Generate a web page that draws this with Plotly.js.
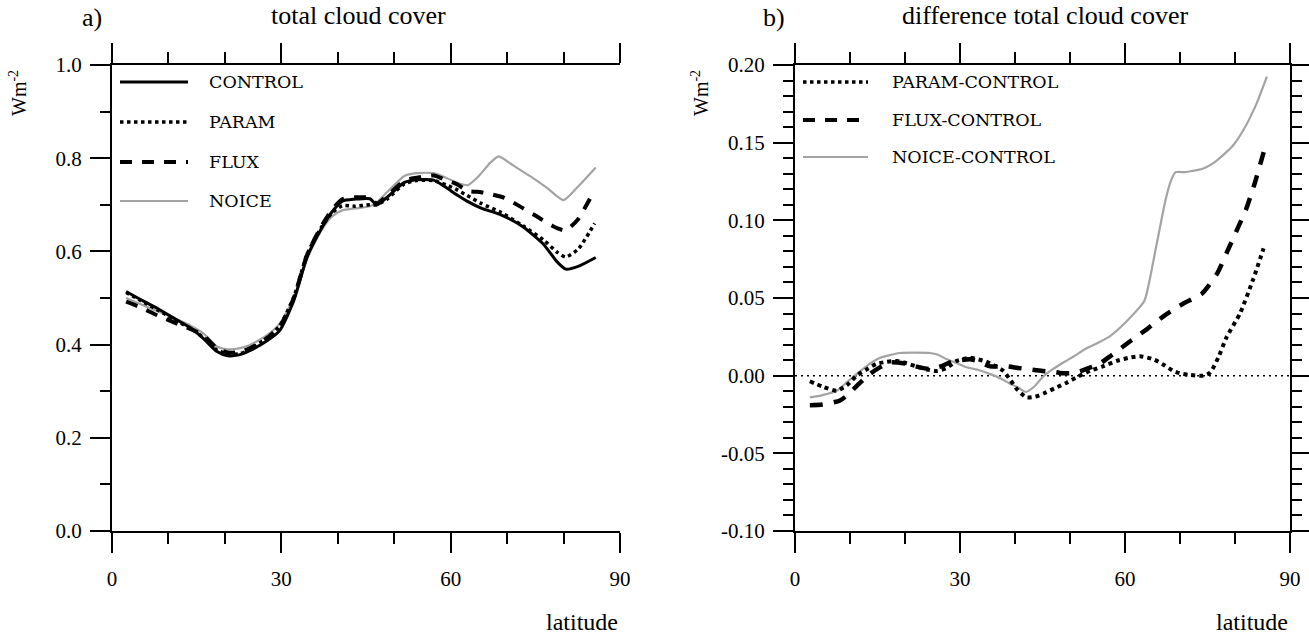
<!DOCTYPE html>
<html>
<head>
<meta charset="utf-8">
<script src="https://cdn.plot.ly/plotly-3.0.1.min.js"></script>
<style>html,body{margin:0;padding:0;background:#fff;}#chart{width:1309px;height:636px;}</style>
</head>
<body>
<div id="chart"></div>
<script>
// ---------- data ----------
const latControl = [2.5, 5, 8, 11.9, 14, 16.2, 18.6, 20.5, 22.5, 24.2, 27.2, 29.7, 32.2, 34.6, 37.1, 39, 40.8, 43, 45.7, 46.9, 48.8, 51.8, 54, 57, 59.2, 61, 62.9, 65.4, 69, 72.8, 76.4, 78.9, 80.4, 82.6, 85.7];
const control    = [0.514, 0.497, 0.478, 0.450, 0.435, 0.413, 0.385, 0.376, 0.378, 0.386, 0.406, 0.430, 0.494, 0.589, 0.649, 0.685, 0.708, 0.712, 0.713, 0.700, 0.717, 0.748, 0.754, 0.753, 0.737, 0.722, 0.708, 0.693, 0.678, 0.653, 0.616, 0.577, 0.562, 0.568, 0.587];

const latParam = [2.5, 5, 8, 11.9, 14, 16.2, 18.6, 20.5, 22.5, 24.2, 27.2, 29.7, 32.2, 34.6, 37.1, 39, 40.8, 43, 45.7, 46.9, 48.8, 51.8, 54, 57, 59.2, 61, 62.9, 65.4, 69, 72.8, 76.4, 78.9, 80.4, 82.6, 85.5];
const param    = [0.512, 0.495, 0.475, 0.448, 0.434, 0.415, 0.388, 0.380, 0.380, 0.388, 0.412, 0.440, 0.502, 0.595, 0.652, 0.683, 0.698, 0.697, 0.700, 0.700, 0.713, 0.745, 0.752, 0.752, 0.743, 0.733, 0.720, 0.703, 0.683, 0.655, 0.625, 0.598, 0.588, 0.605, 0.660];

const latFlux = [2.5, 5, 8, 11.9, 14, 16.2, 18.6, 20.5, 22.5, 24.2, 27.2, 29.7, 32.2, 34.6, 37.1, 39, 40.8, 43, 45.7, 46.9, 48.8, 51.8, 54, 57, 59.2, 61, 63, 65.4, 67, 69.5, 71.5, 75, 78, 80.3, 82.5, 84.8];
const flux    = [0.492, 0.480, 0.463, 0.443, 0.433, 0.420, 0.392, 0.383, 0.384, 0.391, 0.412, 0.438, 0.500, 0.594, 0.654, 0.690, 0.712, 0.716, 0.715, 0.703, 0.720, 0.752, 0.758, 0.763, 0.753, 0.745, 0.730, 0.727, 0.723, 0.715, 0.702, 0.677, 0.655, 0.645, 0.668, 0.716];

const latNoice = [2.5, 5, 8, 11.9, 14, 16.2, 18.6, 20.5, 22.5, 24.2, 27.2, 29.7, 32.2, 34.6, 37.1, 39, 40.8, 43, 45.7, 46.9, 48.8, 51.8, 54, 57, 59.2, 61, 63, 65, 67, 68.5, 71, 74, 77, 80, 82.5, 85.7];
const noice    = [0.500, 0.487, 0.472, 0.452, 0.440, 0.424, 0.396, 0.390, 0.392, 0.398, 0.418, 0.445, 0.500, 0.585, 0.645, 0.675, 0.688, 0.692, 0.697, 0.705, 0.728, 0.762, 0.768, 0.768, 0.758, 0.748, 0.742, 0.762, 0.790, 0.804, 0.785, 0.762, 0.737, 0.710, 0.738, 0.780];

const latParamDiff = [2.7, 5, 7.6, 9.5, 11.2, 13, 14.8, 16.5, 18.5, 20.3, 22, 24, 25.8, 27.6, 29.4, 31.8, 34.8, 36.5, 37.9, 39.2, 40.3, 42.1, 43.7, 45.2, 47.3, 49.4, 51.5, 53.6, 56, 58.5, 60.7, 62.7, 65.2, 67, 68.8, 70.3, 71.8, 74.2, 75.5, 77, 78.5, 80.9, 83.3, 85.2];
const paramDiff    = [-0.0036, -0.007, -0.0097, -0.006, 0, 0.004, 0.0076, 0.0088, 0.0095, 0.008, 0.006, 0.004, 0.003, 0.005, 0.0095, 0.0115, 0.009, 0.006, 0.003, -0.003, -0.0085, -0.014, -0.0135, -0.0115, -0.008, -0.0045, -0.0005, 0.003, 0.006, 0.0095, 0.0115, 0.0125, 0.0105, 0.007, 0.003, 0.0012, 0.0005, 0.0, 0.002, 0.012, 0.025, 0.040, 0.062, 0.082];

const latFluxDiff = [2.7, 5, 8.2, 10, 11.2, 13.6, 15.5, 17.3, 20.3, 22.5, 24.5, 26.5, 28.2, 30, 31.8, 33.5, 35.5, 38.5, 40.5, 42.7, 45, 47, 49, 51.2, 53.5, 55.5, 57.5, 60.5, 64, 67.3, 70.7, 74, 76.8, 78.6, 80.5, 82, 83.6, 85.3];
const fluxDiff    = [-0.019, -0.0185, -0.016, -0.011, -0.0067, 0.001, 0.0055, 0.0085, 0.0076, 0.0055, 0.0043, 0.006, 0.0085, 0.0098, 0.0105, 0.009, 0.006, 0.006, 0.005, 0.004, 0.003, 0.0025, 0.0015, 0.002, 0.005, 0.008, 0.013, 0.021, 0.030, 0.039, 0.0466, 0.0528, 0.066, 0.080, 0.095, 0.107, 0.124, 0.145];

const latNoiceDiff = [2.7, 5, 7.6, 9.5, 11.2, 13.3, 15.5, 17, 19, 22, 24.5, 26, 27.6, 29.5, 31.2, 33.5, 35.5, 37.5, 39, 40.5, 42, 43.5, 45, 46.8, 48.8, 50.5, 52.4, 55, 57.3, 60.3, 63.5, 64.5, 65.5, 66.5, 67.3, 68.2, 69.2, 71, 72.5, 74, 76.5, 79.6, 81.5, 83.9, 85.8];
const noiceDiff    = [-0.014, -0.0125, -0.0097, -0.004, 0.001, 0.007, 0.0115, 0.013, 0.0146, 0.0148, 0.0146, 0.0135, 0.0105, 0.008, 0.0054, 0.0035, 0.001, -0.002, -0.005, -0.0075, -0.0105, -0.007, -0.001, 0.004, 0.0085, 0.012, 0.0164, 0.021, 0.0255, 0.035, 0.048, 0.062, 0.080, 0.098, 0.112, 0.124, 0.131, 0.131, 0.132, 0.133, 0.138, 0.148, 0.158, 0.175, 0.1925];

const xTickVals = [0, 30, 60, 90];
const leftYTickVals = [0, 0.2, 0.4, 0.6, 0.8, 1.0];
const rightYTickVals = [-0.10, -0.05, 0.00, 0.05, 0.10, 0.15, 0.20];

const namesLeft = ['CONTROL', 'PARAM', 'FLUX', 'NOICE'];
const namesRight = ['PARAM-CONTROL', 'FLUX-CONTROL', 'NOICE-CONTROL'];

// ---------- styling ----------
const W = 1309, H = 636;
const serif = 'Liberation Serif, Times New Roman, serif';
const legFont = 'DejaVu Serif, serif';
const px = v => v / W;
const py = v => 1 - v / H;

const styles = {
  control: {color: 'black', width: 3, dash: 'solid'},
  param: {color: 'black', width: 3.5, dash: 'dot'},
  flux: {color: 'black', width: 4, dash: '12px,10px'},
  noice: {color: '#a3a3a3', width: 2.2, dash: 'solid'}
};

function tr(x, y, name, st, xa, ya) {
  return {x: x, y: y, name: name, type: 'scatter', mode: 'lines', xaxis: xa, yaxis: ya,
    line: {color: st.color, width: st.width, dash: st.dash, shape: 'spline', smoothing: 0.6},
    hoverinfo: 'skip', showlegend: false};
}

const data = [
  tr(latNoice, noice, namesLeft[3], styles.noice, 'x', 'y'),
  tr(latFlux, flux, namesLeft[2], styles.flux, 'x', 'y'),
  tr(latParam, param, namesLeft[1], styles.param, 'x', 'y'),
  tr(latControl, control, namesLeft[0], styles.control, 'x', 'y'),
  tr(latNoiceDiff, noiceDiff, namesRight[2], styles.noice, 'x2', 'y2'),
  tr(latFluxDiff, fluxDiff, namesRight[1], {color: 'black', width: 4.5, dash: '13px,11px'}, 'x2', 'y2'),
  tr(latParamDiff, paramDiff, namesRight[0], {color: 'black', width: 4, dash: 'dot'}, 'x2', 'y2')
];

const axBase = {showgrid: false, zeroline: false, showline: true, linecolor: 'black', linewidth: 2,
  ticks: 'outside', tickcolor: 'black', tickwidth: 2, fixedrange: true,
  tickfont: {family: serif, size: 21, color: 'black'}};

function minorVals(lo, hi, step, skip) {
  const out = [];
  for (let i = 0; lo + i * step <= hi + 1e-9; i++) {
    const v = +(lo + i * step).toFixed(6);
    if (!skip.some(s => Math.abs(s - v) < 1e-6)) out.push(v);
  }
  return out;
}

const xAxisCommon = Object.assign({}, axBase, {
  range: [0, 90], tickmode: 'array', tickvals: xTickVals, ticktext: xTickVals.map(String),
  ticklen: 20, ticklabelstandoff: 8, mirror: 'allticks',
  minor: {tickmode: 'array', tickvals: minorVals(0, 90, 10, xTickVals), ticklen: 11, tickwidth: 2, tickcolor: 'black', ticks: 'outside'}
});

// right-hand scale of panel a) (unlabelled, different spacing)
const rStep = 0.0843;
const rMajor = minorVals(0, 1, 2 * rStep, []).concat([1.0]);
const rMinor = minorVals(rStep, 1, 2 * rStep, []);

const TOP = 65, BOT = 531;
const layout = {
  width: W, height: H, margin: {l: 0, r: 0, t: 0, b: 0},
  paper_bgcolor: 'white', plot_bgcolor: 'rgba(0,0,0,0)', showlegend: false,
  xaxis: Object.assign({}, xAxisCommon, {domain: [px(112), px(620)], anchor: 'y'}),
  yaxis: Object.assign({}, axBase, {domain: [py(BOT), py(TOP)], anchor: 'x', range: [0, 1],
    tickmode: 'array', tickvals: leftYTickVals, ticktext: leftYTickVals.map(v => v.toFixed(1)),
    ticklen: 20, ticklabelstandoff: 4,
    minor: {tickmode: 'array', tickvals: minorVals(0, 1, 0.1, leftYTickVals), ticklen: 10, tickwidth: 2, tickcolor: 'black', ticks: 'outside'}}),
  yaxis3: Object.assign({}, axBase, {overlaying: 'y', side: 'right', anchor: 'x', range: [0, 1],
    showticklabels: false, tickmode: 'array', tickvals: rMajor, ticklen: 19,
    minor: {tickmode: 'array', tickvals: rMinor, ticklen: 10, tickwidth: 2, tickcolor: 'black', ticks: 'outside'}}),
  xaxis2: Object.assign({}, xAxisCommon, {domain: [px(795), px(1290)], anchor: 'y2'}),
  yaxis2: Object.assign({}, axBase, {domain: [py(BOT), py(TOP)], anchor: 'x2', range: [-0.1, 0.2],
    tickmode: 'array', tickvals: rightYTickVals, ticktext: rightYTickVals.map(v => v.toFixed(2)),
    ticklen: 20, ticklabelstandoff: 4, mirror: 'allticks',
    minor: {tickmode: 'array', tickvals: minorVals(-0.1, 0.2, 0.01, rightYTickVals), ticklen: 10, tickwidth: 2, tickcolor: 'black', ticks: 'outside'}}),
  shapes: [],
  annotations: []
};

// zero reference line in panel b)
layout.shapes.push({type: 'line', xref: 'x2 domain', x0: 0, x1: 1, yref: 'y2', y0: 0, y1: 0,
  line: {color: 'black', width: 1.5, dash: '2px,4px'}, layer: 'below'});

// hand-drawn legends (long line samples, as in the original)
function legendRow(x0, x1, xt, y, st, label) {
  layout.shapes.push({type: 'line', xref: 'paper', yref: 'paper', x0: px(x0), x1: px(x1), y0: py(y), y1: py(y),
    line: {color: st.color, width: st.width, dash: st.dash}});
  layout.annotations.push({xref: 'paper', yref: 'paper', x: px(xt), y: py(y), xanchor: 'left', yanchor: 'middle',
    text: label, showarrow: false, font: {family: legFont, size: 17.5, color: 'black'}});
}
const leftRowsY = [82, 122, 162, 201];
legendRow(120, 188, 207, leftRowsY[0], styles.control, namesLeft[0]);
legendRow(120, 188, 207, leftRowsY[1], styles.param, namesLeft[1]);
legendRow(120, 188, 207, leftRowsY[2], styles.flux, namesLeft[2]);
legendRow(120, 188, 207, leftRowsY[3], styles.noice, namesLeft[3]);
const rightRowsY = [82, 120, 157];
legendRow(803, 868, 890, rightRowsY[0], styles.param, namesRight[0]);
legendRow(803, 868, 890, rightRowsY[1], styles.flux, namesRight[1]);
legendRow(803, 868, 890, rightRowsY[2], styles.noice, namesRight[2]);

function note(text, x, y, size, xanchor, angle) {
  layout.annotations.push({xref: 'paper', yref: 'paper', x: px(x), y: py(y), xanchor: xanchor || 'center', yanchor: 'middle',
    text: text, showarrow: false, textangle: angle || 0, font: {family: serif, size: size, color: 'black'}});
}
note('a)', 92, 17, 26);
note('total cloud cover', 358, 16, 26);
note('b)', 774, 17, 26);
note('difference total cloud cover', 1045, 16, 26);
note('latitude', 620, 622, 24, 'right');
note('latitude', 1290, 622, 24, 'right');
note('Wm<sup>-2</sup>', 18, 93, 20, 'center', -90);
note('Wm<sup>-2</sup>', 700, 93, 20, 'center', -90);

Plotly.newPlot('chart', data, layout, {staticPlot: true, displayModeBar: false});
</script>
</body>
</html>
